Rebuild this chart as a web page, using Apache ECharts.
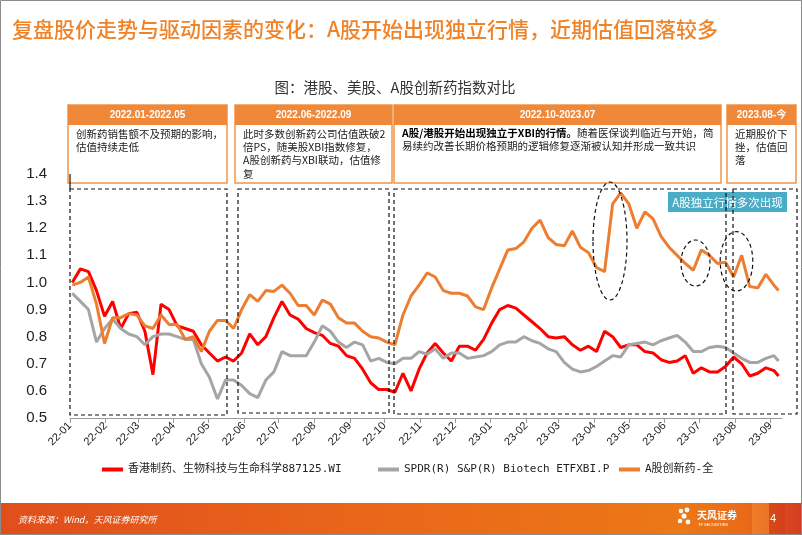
<!DOCTYPE html>
<html><head><meta charset="utf-8">
<script src="https://cdn.jsdelivr.net/npm/echarts@6/dist/echarts.min.js"></script>
<style>html,body{margin:0;padding:0;background:#fff}#c{width:802px;height:535px}</style>
</head><body><div id="c"></div>
<script>
// ---- data (weekly samples) ----
const dates = [
'2022-01-03','2022-01-10','2022-01-17','2022-01-24','2022-01-31',
'2022-02-07','2022-02-14','2022-02-21','2022-02-28',
'2022-03-07','2022-03-14','2022-03-21','2022-03-28',
'2022-04-04','2022-04-11','2022-04-18','2022-04-25',
'2022-05-02','2022-05-09','2022-05-16','2022-05-23','2022-05-30',
'2022-06-06','2022-06-13','2022-06-20','2022-06-27',
'2022-07-04','2022-07-11','2022-07-18','2022-07-25',
'2022-08-01','2022-08-08','2022-08-15','2022-08-22','2022-08-29',
'2022-09-05','2022-09-12','2022-09-19','2022-09-26',
'2022-10-03','2022-10-10','2022-10-17','2022-10-24','2022-10-31',
'2022-11-07','2022-11-14','2022-11-21','2022-11-28',
'2022-12-05','2022-12-12','2022-12-19','2022-12-26',
'2023-01-02','2023-01-09','2023-01-16','2023-01-23','2023-01-30',
'2023-02-06','2023-02-13','2023-02-20','2023-02-27',
'2023-03-06','2023-03-13','2023-03-20','2023-03-27',
'2023-04-03','2023-04-10','2023-04-17','2023-04-24',
'2023-05-01','2023-05-08','2023-05-15','2023-05-22','2023-05-29',
'2023-06-05','2023-06-12','2023-06-19','2023-06-26',
'2023-07-03','2023-07-10','2023-07-17','2023-07-24','2023-07-31',
'2023-08-07','2023-08-14','2023-08-21','2023-08-28',
'2023-09-04','2023-09-08'];

const hkPharma = [
1.00,1.05,1.04,0.97,0.875,0.93,0.83,0.885,0.89,0.82,
0.66,0.92,0.90,0.84,0.83,0.82,0.77,0.74,0.71,0.725,
0.71,0.74,0.81,0.77,0.80,0.87,0.93,0.88,0.865,0.83,
0.815,0.805,0.775,0.765,0.73,0.72,0.68,0.63,0.605,0.605,
0.595,0.665,0.60,0.68,0.74,0.775,0.74,0.71,0.765,0.765,
0.75,0.79,0.85,0.90,0.915,0.905,0.88,0.855,0.83,0.80,
0.795,0.80,0.77,0.75,0.765,0.745,0.82,0.80,0.76,0.77,
0.77,0.745,0.74,0.715,0.705,0.71,0.73,0.665,0.685,0.67,
0.67,0.69,0.725,0.70,0.655,0.665,0.685,0.675,0.655];

const xbiEtf = [
0.96,0.93,0.90,0.78,0.83,0.865,0.83,0.81,0.80,0.77,
0.80,0.81,0.81,0.80,0.79,0.79,0.70,0.65,0.57,0.64,
0.64,0.62,0.59,0.575,0.64,0.67,0.745,0.73,0.73,0.73,
0.78,0.84,0.82,0.78,0.76,0.78,0.77,0.71,0.72,0.705,
0.70,0.72,0.72,0.745,0.735,0.755,0.72,0.74,0.74,0.72,
0.725,0.73,0.745,0.77,0.78,0.78,0.80,0.785,0.775,0.755,
0.745,0.705,0.68,0.67,0.675,0.69,0.71,0.73,0.725,0.77,
0.775,0.78,0.77,0.785,0.795,0.805,0.78,0.745,0.745,0.76,
0.765,0.76,0.74,0.72,0.705,0.705,0.72,0.73,0.71];

const aShareInnov = [
0.99,1.00,1.02,0.92,0.775,0.87,0.87,0.885,0.88,0.84,
0.83,0.88,0.845,0.845,0.79,0.80,0.745,0.82,0.86,0.86,
0.83,0.90,0.955,0.93,0.97,0.967,0.99,0.96,0.915,0.915,
0.88,0.935,0.92,0.87,0.85,0.85,0.82,0.80,0.795,0.78,
0.77,0.88,0.95,0.99,1.035,1.02,0.97,0.96,0.96,0.95,
0.91,0.90,0.98,1.05,1.12,1.125,1.15,1.20,1.23,1.165,
1.14,1.135,1.19,1.13,1.11,1.055,1.04,1.29,1.33,1.29,
1.20,1.26,1.235,1.17,1.13,1.10,1.07,1.045,1.12,1.10,
1.07,1.075,1.02,1.10,0.985,0.98,1.03,0.99,0.97];

const seriesNames = ['香港制药、生物科技与生命科学887125.WI','SPDR(R) S&P(R) Biotech ETFXBI.P','A股创新药-全'];
const seriesColors = ['#FF0000','#A5A5A5','#ED7D31'];
const yMin = 0.5, yMax = 1.4, yStep = 0.1;
const xStart = '2022-01-01', xEnd = '2023-09-11';

const mainTitle = '复盘股价走势与驱动因素的变化：A股开始出现独立行情，近期估值回落较多';
const subTitle = '图：港股、美股、A股创新药指数对比';
const periods = ['2022.01-2022.05','2022.06-2022.09','2022.10-2023.07','2023.08-今'];
const notes = [
  '创新药销售额不及预期的影响，\n估值持续走低',
  '此时多数创新药公司估值跌破2\n倍PS，随美股XBI指数修复，\nA股创新药与XBI联动，估值修\n复',
  '{b|A股/港股开始出现独立于XBI的行情。}随着医保谈判临近与开始，简\n易续约改善长期价格预期的逻辑修复逐渐被认知并形成一致共识',
  '近期股价下\n挫，估值回\n落'
];
const calloutText = 'A股独立行情多次出现';
const sourceText = '资料来源：Wind，天风证券研究所';

// ---- chart ----
const chart = echarts.init(document.getElementById('c'), null, {renderer:'canvas'});
const values = [hkPharma, xbiEtf, aShareInnov];
const cjk = '"Noto Sans CJK SC", "Microsoft YaHei", sans-serif';

const boxes = [
  {x:68, w:159}, {x:235, w:157}, {x:394, w:327}, {x:727, w:69}
];
const graphics = [];
// slide border
graphics.push({type:'rect', shape:{x:0.5,y:0.5,width:801,height:534}, style:{fill:'none',stroke:'#8c8c8c',lineWidth:1}, z:100});
// title
graphics.push({type:'text', x:12, y:29, style:{text:mainTitle, fill:'#F08228', font:'500 21px '+cjk, textVerticalAlign:'middle'}});
graphics.push({type:'text', x:395, y:87, style:{text:subTitle, fill:'#333', font:'14.5px '+cjk, textAlign:'center', textVerticalAlign:'middle'}});
// period boxes
boxes.forEach((b,i)=>{
  graphics.push({type:'rect', shape:{x:b.x,y:105,width:b.w,height:78}, style:{fill:'#fff',stroke:'#F29447',lineWidth:1.5}});
  graphics.push({type:'rect', shape:{x:b.x,y:105,width:b.w,height:20}, style:{fill:'#F0883A'}});
  graphics.push({type:'text', x:b.x+b.w/2, y:115.5, style:{text:periods[i], fill:'#fff', font:'bold 10px "Liberation Sans", '+cjk, textAlign:'center', textVerticalAlign:'middle'}});
  graphics.push({type:'text', x:b.x+8, y:127, style:{text:notes[i], fill:'#1a1a1a', font:'10.5px '+cjk, lineHeight: i===2?12.5:13.3,
    rich:{b:{fontWeight:'bold', fontSize:10.5, fontFamily:'Noto Sans CJK SC', fill:'#000'}}}});
});
// callout label
graphics.push({type:'rect', shape:{x:668,y:192,width:119,height:20}, style:{fill:'#4BACC6'}});
graphics.push({type:'text', x:727.5, y:202.5, style:{text:calloutText, fill:'#fff', font:'11.5px '+cjk, textAlign:'center', textVerticalAlign:'middle'}});
// dashed period rectangles
const dash = {fill:'none', stroke:'#111', lineWidth:1.2, lineDash:[4,3]};
[[70,189,157,226],[238,189,151,224],[394,189,332,225],[733,189,64,225]].forEach(r=>{
  graphics.push({type:'rect', shape:{x:r[0],y:r[1],width:r[2],height:r[3]}, style:dash, z:50});
});
// ellipses
[[610,241,17,59],[695.5,263,14.5,23],[736.5,261.3,16.3,29.7]].forEach(e=>{
  graphics.push({type:'ellipse', shape:{cx:e[0],cy:e[1],rx:e[2],ry:e[3]}, style:dash, z:50});
});
// short solid axis segment at top-left
graphics.push({type:'line', shape:{x1:70,y1:174,x2:70,y2:189}, style:{stroke:'#111',lineWidth:1.2}});
// footer band
graphics.push({type:'rect', shape:{x:0,y:503,width:802,height:32}, style:{fill:new echarts.graphic.LinearGradient(0,0,1,0,[
  {offset:0,color:'#E04E1C'},{offset:0.45,color:'#E9661A'},{offset:0.85,color:'#EC7816'},{offset:0.93,color:'#E96A18'},{offset:1,color:'#D33B22'}])}});
graphics.push({type:'rect', shape:{x:752,y:503,width:17,height:32}, style:{fill:'rgba(255,170,70,0.35)'}});
graphics.push({type:'rect', shape:{x:769,y:503,width:16,height:32}, style:{fill:'rgba(200,50,20,0.35)'}});
graphics.push({type:'text', x:18, y:520, style:{text:sourceText, fill:'#fff', font:'italic 9px '+cjk, textVerticalAlign:'middle'}});
graphics.push({type:'text', x:773, y:519, style:{text:'4', fill:'#fff', font:'11px "Liberation Sans"', textAlign:'center', textVerticalAlign:'middle'}});
// logo
[[681,511,2.2],[687,510,2.4],[684,516,2.6],[680,521,2.2],[688,522,2.4]].forEach(c=>{
  graphics.push({type:'circle', shape:{cx:c[0],cy:c[1],r:c[2]}, style:{fill:'#fff'}});
});
graphics.push({type:'text', x:697, y:515, style:{text:'天风证券', fill:'#fff', font:'bold 10px '+cjk, textVerticalAlign:'middle'}});
graphics.push({type:'text', x:698, y:525, style:{text:'TF SECURITIES', fill:'#fff', font:'4px "Liberation Sans"', textVerticalAlign:'middle'}});

const legendFont = '"DejaVu Sans Mono", "Noto Sans CJK SC", monospace';
const legendLefts = [97, 373, 614];

chart.setOption({
  animation:false,
  backgroundColor:'#fff',
  grid:{left:70, right:20, top:174, bottom:117, containLabel:false},
  legend: seriesNames.map((n,i)=>({
    data:[n], left:legendLefts[i], top:459, icon:'rect', itemWidth:21, itemHeight:4, itemGap:0,
    textStyle:{fontFamily:legendFont, fontSize:11, color:'#222'}
  })),
  xAxis:{
    type:'time', min:xStart, max:xEnd, splitNumber:21,
    minInterval:28*86400000, maxInterval:31*86400000,
    axisLine:{show:true, lineStyle:{color:'#9a9a9a', width:1}},
    axisTick:{show:true, length:5, lineStyle:{color:'#9a9a9a'}},
    splitLine:{show:false},
    axisLabel:{rotate:45, margin:6, fontSize:11, color:'#222', fontFamily:'"Liberation Sans", Arial',
      showMaxLabel:false, hideOverlap:false,
      formatter:function(v){const d=new Date(v);return String(d.getFullYear()).slice(2)+'-'+String(d.getMonth()+1).padStart(2,'0');}}
  },
  yAxis:{
    type:'value', min:yMin, max:yMax, interval:yStep,
    axisLine:{show:false}, axisTick:{show:false}, splitLine:{show:false},
    axisLabel:{margin:23, fontSize:15, color:'#222', fontFamily:'"Liberation Sans", Arial', formatter:v=>v.toFixed(1)}
  },
  series: seriesNames.map((n,i)=>({
    name:n, type:'line', showSymbol:false, symbol:'none', smooth:false,
    lineStyle:{color:seriesColors[i], width:3}, itemStyle:{color:seriesColors[i]},
    data: dates.map((d,k)=>[d, values[i][k]]), z:2+i
  })),
  graphic: graphics
});
</script></body></html>
